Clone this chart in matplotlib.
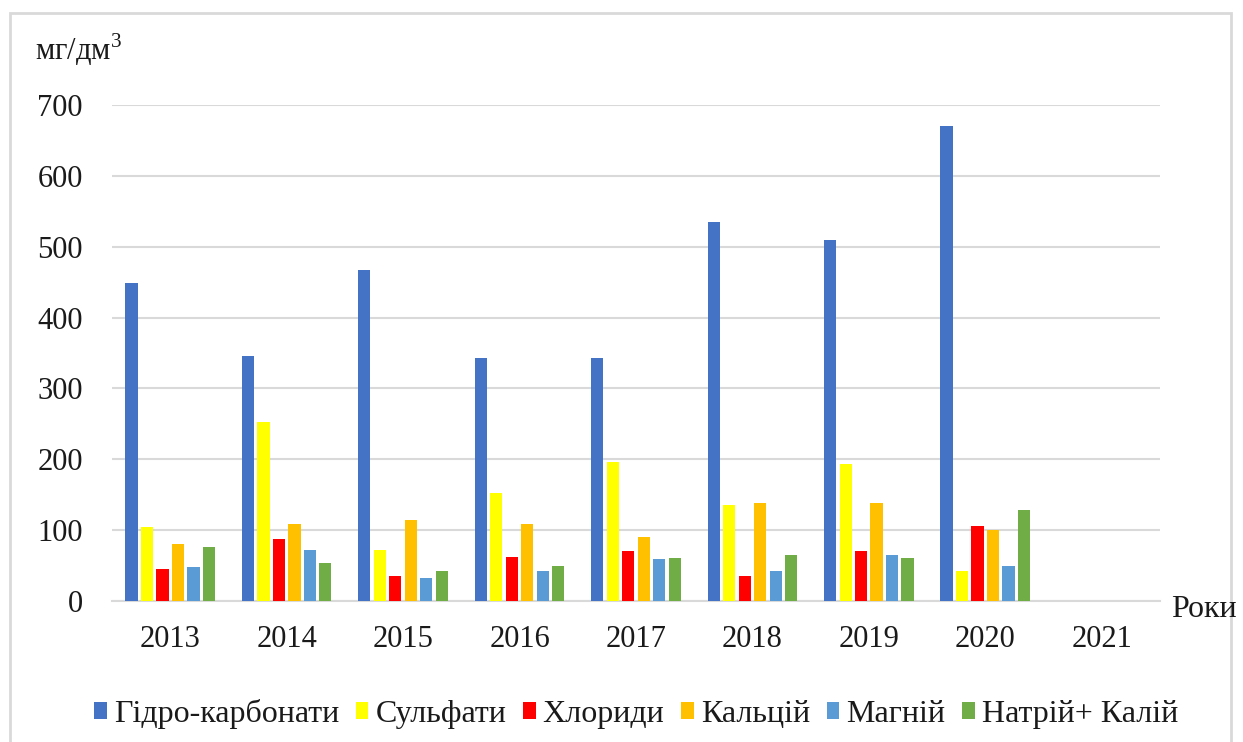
import numpy as np
import matplotlib.pyplot as plt
from matplotlib.patches import Rectangle

plt.rcParams['font.family'] = ['Liberation Serif', 'DejaVu Serif']
plt.rcParams['mathtext.fontset'] = 'custom'
plt.rcParams['mathtext.rm'] = 'Liberation Serif'

years = ['2013', '2014', '2015', '2016', '2017', '2018', '2019', '2020', '2021']
names = ['Гідро-карбонати', 'Сульфати', 'Хлориди', 'Кальцій', 'Магній', 'Натрій+ Калій']
colors = ['#4472C4', '#FFFF00', '#FF0000', '#FFC000', '#5B9BD5', '#70AD47']

# mg/dm3 by year; 2021 has no measurements
hydrocarbonates = [449, 346, 467, 343, 343, 535, 510, 671, np.nan]
sulfates = [104, 253, 72, 152, 196, 135, 194, 42, np.nan]
chlorides = [45, 88, 35, 62, 71, 35, 70, 106, np.nan]
calcium = [80, 109, 115, 109, 90, 139, 139, 100, np.nan]
magnesium = [48, 72, 33, 42, 59, 42, 65, 50, np.nan]
sodium_potassium = [76, 54, 43, 49, 61, 65, 61, 128, np.nan]

series = [hydrocarbonates, sulfates, chlorides, calcium, magnesium, sodium_potassium]

fig = plt.figure(figsize=(12.43, 7.42), dpi=100)
ax = fig.add_axes([0.0901, 0.190, 0.8431, 0.6685])

x = np.arange(len(years))
slot = 0.133
width = 0.105
for i, (vals, name, c) in enumerate(zip(series, names, colors)):
    ax.bar(x + (i - 2.5) * slot, vals, width, color=c, label=name, zorder=3)

ax.set_xlim(-0.5, len(years) - 0.5)
ax.set_ylim(0, 700)
ax.set_yticks(range(0, 701, 100))
ax.set_xticks(x)
ax.set_xticklabels(years)
ax.tick_params(length=0, labelsize=22, colors='#1a1a1a')
ax.tick_params(axis='x', pad=17)
ax.tick_params(axis='y', pad=21)
ax.grid(axis='y', color='#D9D9D9', linewidth=1.5, zorder=0)
for s in ['top', 'right', 'left']:
    ax.spines[s].set_visible(False)
ax.spines['bottom'].set_color('#D9D9D9')
ax.spines['bottom'].set_linewidth(1.5)

fig.text(0.028, 0.919, 'мг/дм$^3$', fontsize=22, color='#1a1a1a')
fig.text(0.942, 0.169, 'Роки', fontsize=23, color='#1a1a1a')

ax.legend(loc='center', bbox_to_anchor=(0.5, -0.228), ncol=6, frameon=False,
          prop={'family': ['Liberation Serif', 'DejaVu Serif'], 'size': 23},
          handlelength=0.4, handleheight=0.45, handletextpad=0.22,
          columnspacing=0.52, borderaxespad=0, labelcolor='#1a1a1a')

fig.patches.append(Rectangle((0.008, -0.01), 0.982, 0.993, transform=fig.transFigure,
                             fill=False, edgecolor='#D9D9D9', linewidth=2))

fig.savefig('out.png', dpi=100)
